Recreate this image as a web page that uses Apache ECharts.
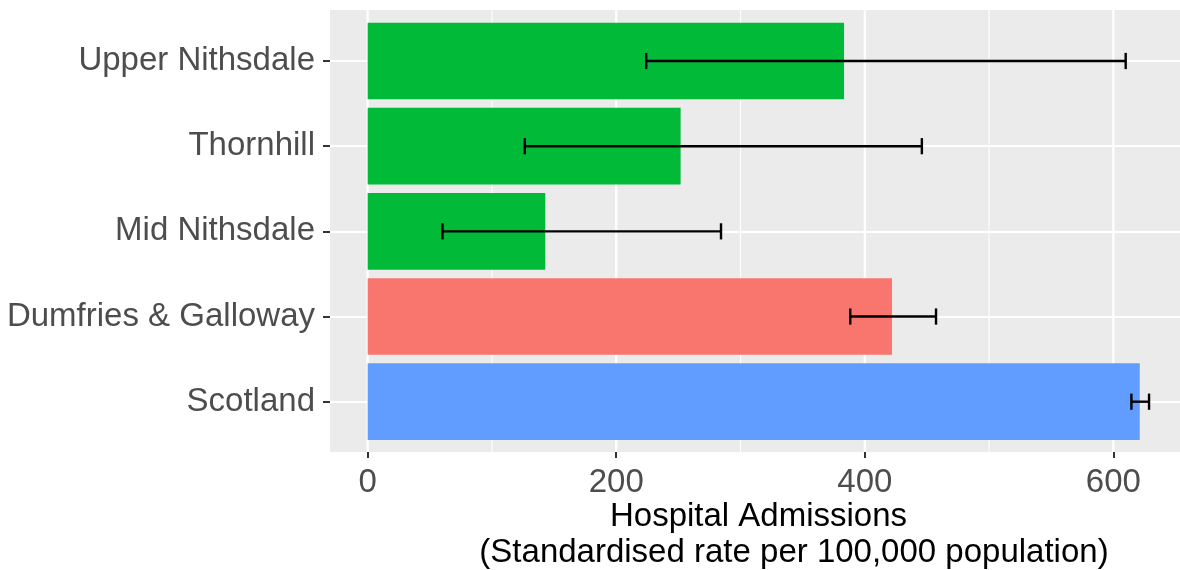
<!DOCTYPE html>
<html>
<head>
<meta charset="utf-8">
<script src="https://cdn.jsdelivr.net/npm/echarts@6/dist/echarts.min.js"></script>
<style>
html,body{margin:0;padding:0;background:#fff;}
#chart{width:1180px;height:570px;}
</style>
</head>
<body>
<div id="chart"></div>
<script>
// ---- data ----
const categories = ['Upper Nithsdale', 'Thornhill', 'Mid Nithsdale', 'Dumfries & Galloway', 'Scotland'];
const rates = [383.3, 251.8, 142.9, 421.9, 621.2];
const lowerCI = [224.1, 126.4, 60.2, 388.3, 614.5];
const upperCI = [609.9, 445.9, 284.3, 457.3, 628.7];
const barColors = ['#00BA38', '#00BA38', '#00BA38', '#F8766D', '#619CFF'];
const xTicks = [0, 200, 400, 600];
const xMinorTicks = [100, 300, 500];
const xTitleLine1 = 'Hospital Admissions';
const xTitleLine2 = '(Standardised rate per 100,000 population)';

const X_MIN = -30.3, X_MAX = 653.6;
const FONT = '"Liberation Sans", Arial, Helvetica, sans-serif';

const chart = echarts.init(document.getElementById('chart'), null, {renderer: 'canvas'});

function vLine(width) {
  return function (params, api) {
    const cs = params.coordSys;
    const x = api.coord([api.value(0), 0])[0];
    return {
      type: 'line',
      shape: {x1: x, y1: cs.y, x2: x, y2: cs.y + cs.height},
      style: {stroke: '#FFFFFF', lineWidth: width},
      silent: true
    };
  };
}

const option = {
  animation: false,
  backgroundColor: '#FFFFFF',
  textStyle: {fontFamily: FONT},
  grid: [
    {left: 330, right: 0, top: 10, bottom: 118, show: true, backgroundColor: '#EBEBEB', borderWidth: 0},
    {left: 330, right: 0, top: 61, bottom: 168.3, show: false}
  ],
  xAxis: [
    {
      gridIndex: 0, type: 'value', min: X_MIN, max: X_MAX,
      axisLine: {show: false, onZero: false},
      splitLine: {show: false},
      axisTick: {show: true, customValues: xTicks, length: 6, lineStyle: {color: '#333333', width: 2}},
      axisLabel: {customValues: xTicks, fontSize: 33, color: '#4D4D4D', margin: 14, fontFamily: FONT}
    },
    {gridIndex: 1, type: 'value', min: X_MIN, max: X_MAX, show: false, splitLine: {show: false}, axisLine: {onZero: false}}
  ],
  yAxis: [
    {gridIndex: 0, type: 'value', min: 0, max: 1, show: false, splitLine: {show: false}, axisLine: {onZero: false}},
    {
      gridIndex: 1, type: 'category', inverse: true, boundaryGap: false, data: categories,
      axisLine: {show: false, onZero: false},
      axisTick: {show: true, length: 7, lineStyle: {color: '#333333', width: 2}},
      axisLabel: {fontSize: 33, color: '#4D4D4D', margin: 15, fontFamily: FONT},
      splitLine: {show: true, lineStyle: {color: '#FFFFFF', width: 2.2}}
    }
  ],
  graphic: [
    {type: 'text', x: 758.5, y: 500, style: {text: xTitleLine1, font: '33px ' + FONT, fill: '#000000', textAlign: 'center', textVerticalAlign: 'top'}},
    {type: 'text', x: 794, y: 536, style: {text: xTitleLine2, font: '33px ' + FONT, fill: '#000000', textAlign: 'center', textVerticalAlign: 'top'}}
  ],
  series: [
    {
      type: 'custom', xAxisIndex: 0, yAxisIndex: 0, z: 1, silent: true,
      renderItem: vLine(1.1),
      data: xMinorTicks.map(v => [v, 0])
    },
    {
      type: 'custom', xAxisIndex: 0, yAxisIndex: 0, z: 1, silent: true,
      renderItem: vLine(2.2),
      data: xTicks.map(v => [v, 0])
    },
    {
      type: 'bar', xAxisIndex: 1, yAxisIndex: 1, z: 2, clip: false,
      barWidth: '90%',
      data: rates.map((v, i) => ({value: v, itemStyle: {color: barColors[i]}}))
    },
    {
      type: 'custom', xAxisIndex: 1, yAxisIndex: 1, z: 3, silent: true,
      encode: {x: [1, 2], y: 0},
      data: categories.map((c, i) => [i, lowerCI[i], upperCI[i]]),
      renderItem: function (params, api) {
        const cat = api.value(0);
        const lo = api.coord([api.value(1), cat]);
        const hi = api.coord([api.value(2), cat]);
        const half = api.size([0, 1])[1] * 0.095;
        const st = {stroke: '#000000', lineWidth: 2.4};
        return {
          type: 'group',
          children: [
            {type: 'line', shape: {x1: lo[0], y1: lo[1], x2: hi[0], y2: hi[1]}, style: st},
            {type: 'line', shape: {x1: lo[0], y1: lo[1] - half, x2: lo[0], y2: lo[1] + half}, style: st},
            {type: 'line', shape: {x1: hi[0], y1: hi[1] - half, x2: hi[0], y2: hi[1] + half}, style: st}
          ]
        };
      }
    }
  ]
};
chart.setOption(option);
</script>
</body>
</html>
